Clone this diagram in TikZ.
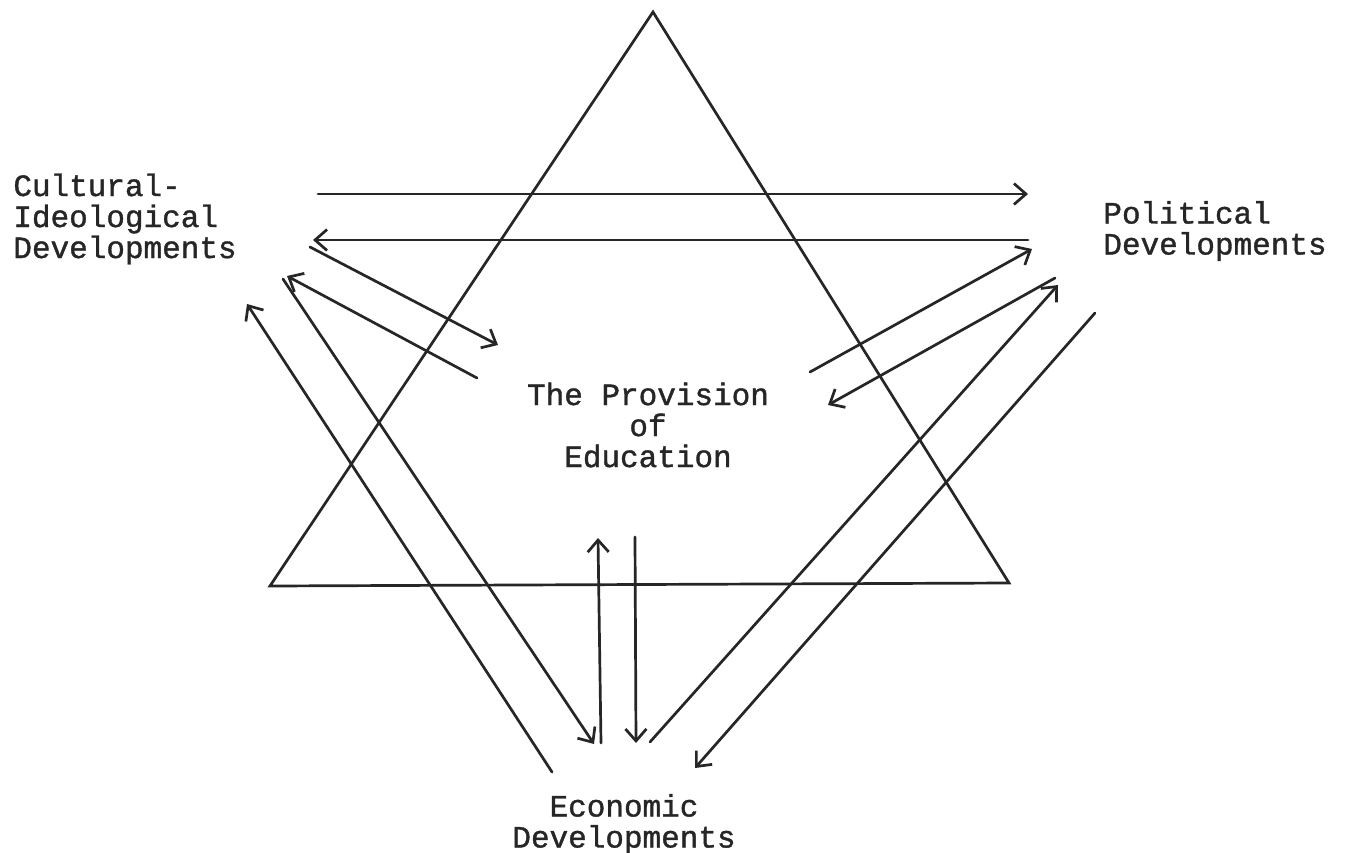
\documentclass[tikz,border=0pt]{standalone}
\usepackage{fontspec}
\newfontfamily\typewr[FakeBold=1.2]{Liberation Mono}
\usetikzlibrary{arrows.meta}
\tikzset{
  ln/.style={line width=2.7pt, line cap=round, line join=miter, draw=black!85},
  arr/.style={ln, -{Straight Barb[length=12pt,width=21pt,line width=2.7pt]}},
  lbl/.style={inner sep=0pt, font=\typewr\fontsize{31}{31}\selectfont, text=black!85}
}
\begin{document}
\begin{tikzpicture}[x=1pt,y=-1pt]
\useasboundingbox (0,0) rectangle (1350,852);
\fill[white] (0,0) rectangle (1350,852);
% triangle
\coordinate (tA) at (653,12);
\coordinate (tB) at (270,586);
\coordinate (tC) at (1009,583);
\draw[ln] (tA) -- (tB) -- (tC) -- cycle;
% labels
\node[lbl, align=left, anchor=center] (cult) at (125,219) {Cultural-\\Ideological\\Developments};
\node[lbl, align=left, anchor=center] (pol) at (1215,231) {Political\\Developments};
\node[lbl, align=center, anchor=center] (edu) at (648,425) {The Provision\\of\\Education};
\node[lbl, align=center, anchor=center] (econ) at (624,824) {Economic\\Developments};
% connector ends
\coordinate (p1s) at (318,194);  \coordinate (p1e) at (1028,194);
\coordinate (p2s) at (1028,240); \coordinate (p2e) at (313,240);
\coordinate (p3s) at (310,247);  \coordinate (p3e) at (498,345);
\coordinate (p4s) at (477,378);  \coordinate (p4e) at (287,276);
\coordinate (p5s) at (283,279);  \coordinate (p5e) at (594,744);
\coordinate (p6s) at (552,772);  \coordinate (p6e) at (247,304);
\coordinate (p7s) at (601,743);  \coordinate (p7e) at (598,538);
\coordinate (p8s) at (635,537);  \coordinate (p8e) at (636,743);
\coordinate (p9s) at (650,742);  \coordinate (p9e) at (1058,285);
\coordinate (p10s) at (1095,313); \coordinate (p10e) at (695,768);
\coordinate (p11s) at (810,372); \coordinate (p11e) at (1032,249);
\coordinate (p12s) at (1055,278); \coordinate (p12e) at (828,405);
\foreach \i in {1,...,12} {\draw[arr] (p\i s) -- (p\i e);}
\end{tikzpicture}
\end{document}
